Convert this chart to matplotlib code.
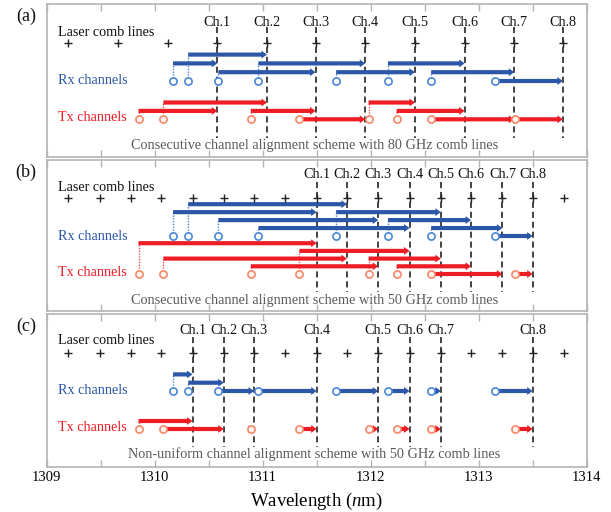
import matplotlib
matplotlib.use('Agg')
import matplotlib.pyplot as plt

plt.rcParams['font.family'] = ['Liberation Serif', 'DejaVu Serif']
plt.rcParams['mathtext.fontset'] = 'custom'
plt.rcParams['mathtext.rm'] = 'Liberation Serif'
plt.rcParams['mathtext.it'] = 'Liberation Serif:italic'

# ---------------- data ----------------
x_ticks = [1309, 1309.5, 1310, 1310.5, 1311, 1311.5, 1312, 1312.5, 1313, 1313.5, 1314]
x_tick_labels = ['1309', '', '1310', '', '1311', '', '1312', '', '1313', '', '1314']

comb_80 = [1309.20, 1309.66, 1310.12, 1310.58, 1311.04, 1311.49, 1311.95,
           1312.41, 1312.87, 1313.33, 1313.78]
comb_50 = [1309.20, 1309.49, 1309.78, 1310.06, 1310.35, 1310.64, 1310.92,
           1311.21, 1311.50, 1311.78, 1312.07, 1312.36, 1312.65, 1312.93,
           1313.22, 1313.50, 1313.79]

rx_wl = [1310.17, 1310.31, 1310.59, 1310.96, 1311.68, 1312.16, 1312.56, 1313.15]
tx_wl = [1309.85, 1310.08, 1310.89, 1311.34, 1311.98, 1312.24, 1312.56, 1313.34]

channel_names = ['Ch.1', 'Ch.2', 'Ch.3', 'Ch.4', 'Ch.5', 'Ch.6', 'Ch.7', 'Ch.8']

a_channel_idx = [3, 4, 5, 6, 7, 8, 9, 10]
b_channel_idx = [8, 9, 10, 11, 12, 13, 14, 15]
c_channel_idx = [4, 5, 6, 8, 10, 11, 12, 15]

a_rx_level = [2, 3, 1, 2, 1, 2, 1, 0]
a_tx_level = [1, 2, 1, 0, 2, 1, 0, 0]
b_rx_level = [3, 4, 2, 1, 3, 2, 1, 0]
b_tx_level = [4, 2, 1, 3, 2, 1, 0, 0]
c_rx_level = [2, 1, 0, 0, 0, 0, 0, 0]
c_tx_level = [1, 0, 0, 0, 0, 0, 0, 0]

panel_tags = ['(a)', '(b)', '(c)']
captions = ['Consecutive channel alignment scheme with 80 GHz comb lines',
            'Consecutive channel alignment scheme with 50 GHz comb lines',
            'Non-uniform channel alignment scheme with 50 GHz comb lines']

# ---------------- style ----------------
W, H = 611, 512
BLUE = '#2c56a8'
BLUE_C = '#4a86d6'
RED = '#ee1c24'
RED_C = '#f4896b'
GRAY = '#b4b4b4'

fig = plt.figure(figsize=(W / 100, H / 100), dpi=100)

# panel geometry in pixels: (top, bottom)
panels_px = [(4.0, 156.7), (160.0, 310.7), (314.3, 466.7)]
ax_left, ax_right = 46.7, 586.7

panel_specs = [
    dict(comb=comb_80, ch=a_channel_idx, rxl=a_rx_level, txl=a_tx_level,
         rx_base=77.0, rx_step=8.8, tx_base=115.3, tx_step=8.4,
         ch_y=18.7, comb_y=39.3, laser_y=28.3, dash=(22.7, 134.0),
         rx_lab=77.0, tx_lab=113.3, cap_y=141.7),
    dict(comb=comb_50, ch=b_channel_idx, rxl=b_rx_level, txl=b_tx_level,
         rx_base=76.0, rx_step=7.95, tx_base=114.0, tx_step=7.7,
         ch_y=14.3, comb_y=38.3, laser_y=27.3, dash=(21.7, 131.7),
         rx_lab=76.0, tx_lab=112.3, cap_y=140.7),
    dict(comb=comb_50, ch=c_channel_idx, rxl=c_rx_level, txl=c_tx_level,
         rx_base=76.7, rx_step=8.3, tx_base=114.7, tx_step=8.0,
         ch_y=16.3, comb_y=38.3, laser_y=26.3, dash=(22.3, 132.3),
         rx_lab=76.7, tx_lab=113.0, cap_y=139.7),
]

ARROW = 'simple,head_length=0.4,head_width=0.56,tail_width=0.3'
CIRC_R = 3.0

axes = []
for i, ((top, bot), sp) in enumerate(zip(panels_px, panel_specs)):
    ph = bot - top
    ax = fig.add_axes([ax_left / W, 1 - bot / H, (ax_right - ax_left) / W, ph / H])
    axes.append(ax)
    ax.set_xlim(1309, 1314)
    ax.set_ylim(ph, 0)
    ax.set_yticks([])
    ax.set_xticks(x_ticks)
    if i == 2:
        ax.set_xticklabels(x_tick_labels, fontsize=10.5)
    else:
        ax.set_xticklabels([])
    ax.tick_params(axis='x', direction='in', length=5, width=1, color=GRAY,
                   top=True, bottom=True, pad=3)
    for s in ax.spines.values():
        s.set_color(GRAY)
        s.set_linewidth(1.2)

    comb = sp['comb']
    ch_wl = [comb[k] for k in sp['ch']]

    # comb lines
    ax.plot(comb, [sp['comb_y']] * len(comb), linestyle='none', marker='+',
            markersize=6, markeredgewidth=1.0, color='#222222', zorder=5)

    # channel dashed lines and labels
    ax.vlines(ch_wl, sp['dash'][0], sp['dash'][1], colors='#111111',
              linestyles=(0, (4, 2.5)), linewidth=1.1, zorder=2)
    for name, x in zip(channel_names, ch_wl):
        ax.text(x, sp['ch_y'], name, ha='center', va='center', fontsize=10.2,
                color='#111111')

    ax.text(1309.108, sp['laser_y'], 'Laser comb lines', ha='left', va='center',
            fontsize=10.2, color='#111111')
    ax.text(1309.108, sp['rx_lab'], 'Rx channels', ha='left', va='center',
            fontsize=10.2, color=BLUE)
    ax.text(1309.108, sp['tx_lab'], 'Tx channels', ha='left', va='center',
            fontsize=10.2, color=RED)
    ax.text(1311.48, sp['cap_y'], captions[i], ha='center', va='center',
            fontsize=10.3, color='#5a5a5a')

    # Rx arrows
    for wl, lev, dest in zip(rx_wl, sp['rxl'], ch_wl):
        y = sp['rx_base'] - sp['rx_step'] * lev
        if lev > 0:
            ax.vlines(wl, sp['rx_base'] - CIRC_R, y, colors=BLUE_C,
                      linestyles=(0, (1, 1)), linewidth=1.0, zorder=2)
        ax.annotate('', xy=(dest, y), xytext=(wl, y),
                    arrowprops=dict(arrowstyle=ARROW, color=BLUE, lw=0,
                                    shrinkA=0, shrinkB=0, mutation_scale=10),
                    zorder=3)
    ax.plot(rx_wl, [sp['rx_base']] * len(rx_wl), linestyle='none', marker='o',
            markersize=5.2, markeredgewidth=1.2, markeredgecolor=BLUE_C,
            markerfacecolor='white', zorder=6)

    # Tx arrows
    for wl, lev, dest in zip(tx_wl, sp['txl'], ch_wl):
        y = sp['tx_base'] - sp['tx_step'] * lev
        if lev > 0:
            ax.vlines(wl, sp['tx_base'] - CIRC_R, y, colors='#f05050',
                      linestyles=(0, (1, 1)), linewidth=1.0, zorder=2)
        ax.annotate('', xy=(dest, y), xytext=(wl, y),
                    arrowprops=dict(arrowstyle=ARROW, color=RED, lw=0,
                                    shrinkA=0, shrinkB=0, mutation_scale=10),
                    zorder=3)
    ax.plot(tx_wl, [sp['tx_base']] * len(tx_wl), linestyle='none', marker='o',
            markersize=5.2, markeredgewidth=1.2, markeredgecolor=RED_C,
            markerfacecolor='#fff4f0', zorder=6)

    # panel tag
    fig.text(26 / W, 1 - (top + 12) / H, panel_tags[i], ha='center', va='center',
             fontsize=13, color='#111111')

axes[2].set_xlabel(r'Wavelength ($\mathit{n}$m)', fontsize=13.5, labelpad=5)

fig.savefig('out.png', dpi=100)
